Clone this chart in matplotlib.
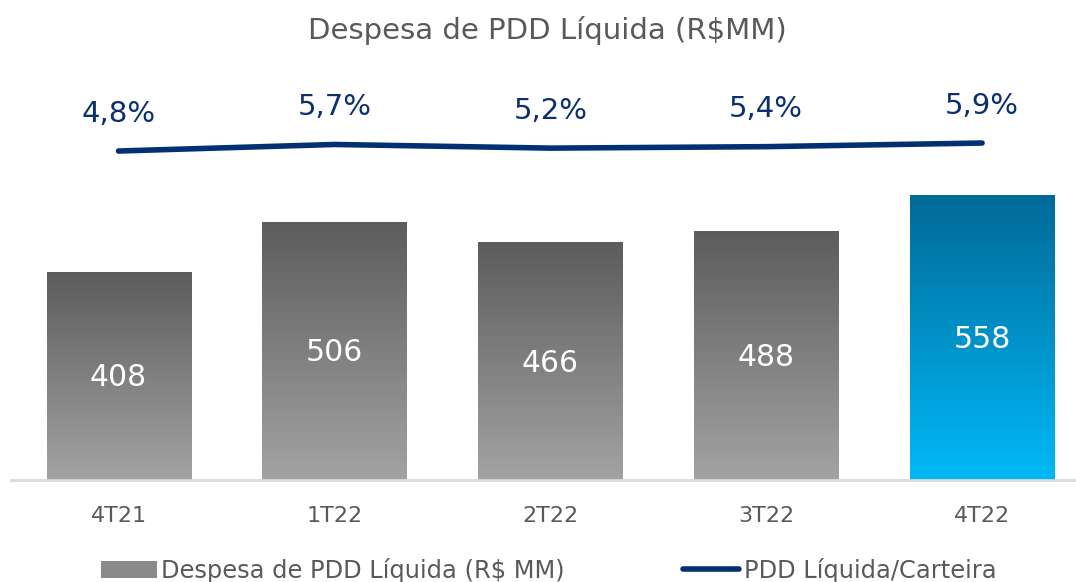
import numpy as np
import matplotlib
matplotlib.use("Agg")
import matplotlib.pyplot as plt
from matplotlib.colors import LinearSegmentedColormap
from matplotlib.patches import Patch
from matplotlib.lines import Line2D

# data
quarters = ["4T21", "1T22", "2T22", "3T22", "4T22"]
despesa = [408, 506, 466, 488, 558]
pdd_carteira = [4.8, 5.7, 5.2, 5.4, 5.9]
pdd_labels = ["4,8%", "5,7%", "5,2%", "5,4%", "5,9%"]

plt.rcParams['font.family'] = ['DejaVu Sans']

gray_cmap = LinearSegmentedColormap.from_list("g", ["#a3a3a3", "#5c5c5c"])
blue_cmap = LinearSegmentedColormap.from_list("b", ["#00b9f7", "#006a97"])
navy = "#0b2f70"
text_gray = "#595959"

fig = plt.figure(figsize=(10.76, 5.82), dpi=100)
ax = fig.add_axes([11/1076, 102/582, 1 - 11/1076, 420/582])
x = np.arange(len(quarters))
bars = ax.bar(x, despesa, width=0.667, facecolor="none", edgecolor="none")

grad = np.linspace(0, 1, 256).reshape(-1, 1)
for i, b in enumerate(bars):
    cmap = blue_cmap if i == len(bars) - 1 else gray_cmap
    x0, w, h = b.get_x(), b.get_width(), b.get_height()
    im = ax.imshow(grad, cmap=cmap, origin="lower", aspect="auto",
                   extent=[x0, x0 + w, 0, h], zorder=2)
    im.set_clip_path(b)
    ax.text(x[i], h / 2 - 4, str(despesa[i]), ha="center", va="center",
            color="white", fontsize=21.5, zorder=3)

ax.set_xlim(-0.498, 4.435)
ax.set_ylim(0, 823)
for s in ["top", "right", "left"]:
    ax.spines[s].set_visible(False)
ax.spines["bottom"].set_color("#d9d9d9")
ax.spines["bottom"].set_linewidth(2)
ax.set_yticks([])
ax.set_xticks(x)
ax.set_xticklabels(quarters, fontsize=16, color=text_gray)
ax.tick_params(axis="x", length=0, pad=19)

# line on secondary axis
ax2 = ax.twinx()
ax2.set_ylim(-40.45, 17.32)
ax2.plot(x, pdd_carteira, color="#032f73", linewidth=4, solid_capstyle="round", zorder=4)
for i, v in enumerate(pdd_carteira):
    ax2.annotate(pdd_labels[i], (x[i], v), xytext=(0, 27), textcoords="offset points",
                 ha="center", va="center", color=navy, fontsize=21)
ax2.axis("off")

fig.text(0.509, 0.948, "Despesa de PDD Líquida (R$MM)", ha="center", va="center",
         fontsize=21, color=text_gray)

handles = [Patch(facecolor="#8a8a8a", edgecolor="none"),
           Line2D([0], [0], color="#032f73", linewidth=4, solid_capstyle="round")]
fig.legend(handles, ["Despesa de PDD Líquida (R$ MM)", "PDD Líquida/Carteira"],
           loc="center", bbox_to_anchor=(0.51, 0.02), ncol=2, frameon=False,
           fontsize=17.4, labelcolor=text_gray, columnspacing=4.9, handlelength=2.3,
           handletextpad=0.2)

fig.savefig("out.png", dpi=100)
